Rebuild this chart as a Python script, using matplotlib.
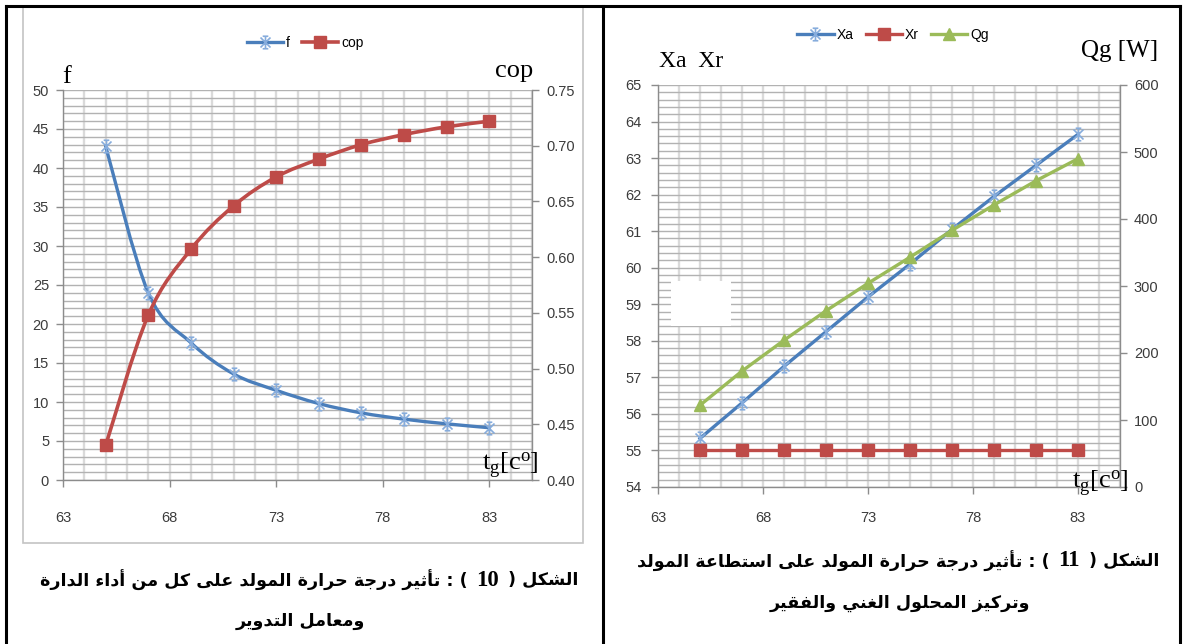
import matplotlib
matplotlib.use("Agg")
import matplotlib.pyplot as plt
from matplotlib.path import Path
from matplotlib.patches import PathPatch, Rectangle
from matplotlib.lines import Line2D
from matplotlib import font_manager
from matplotlib.font_manager import FontProperties
from matplotlib.ft2font import FT2Font

# ---------------------------------------------------------------- data
t_gen = [65, 67, 69, 71, 73, 75, 77, 79, 81, 83]

# figure 10: circulation ratio f and COP
f_vals = [42.8, 24.0, 17.6, 13.6, 11.5, 9.8, 8.6, 7.8, 7.2, 6.7]
cop_vals = [0.431, 0.548, 0.607, 0.646, 0.672, 0.688, 0.701, 0.710, 0.717, 0.722]

# figure 11: strong / weak solution concentration and generator load
xa_vals = [55.33, 56.30, 57.30, 58.25, 59.20, 60.10, 61.05, 61.95, 62.80, 63.65]
xr_vals = [55.0, 55.0, 55.0, 55.0, 55.0, 55.0, 55.0, 55.0, 55.0, 55.0]
qg_vals = [122, 173, 219, 263, 304, 343, 383, 421, 457, 490]

x_ticks = [63, 68, 73, 78, 83]
f_ticks = [0, 5, 10, 15, 20, 25, 30, 35, 40, 45, 50]
cop_ticks = [0.40, 0.45, 0.50, 0.55, 0.60, 0.65, 0.70, 0.75]
x_conc_ticks = [54, 55, 56, 57, 58, 59, 60, 61, 62, 63, 64, 65]
qg_ticks = [0, 100, 200, 300, 400, 500, 600]

caption_10 = ["الشكل (", "10", ") : تأثير درجة حرارة المولد على كل من أداء الدارة"]
caption_10b = "ومعامل التدوير"
caption_11 = ["الشكل (", "11", ") : تأثير درجة حرارة المولد على استطاعة المولد"]
caption_11b = "وتركيز المحلول الغني والفقير"

# ---------------------------------------------------------------- style
BLUE = "#4a7ebb"
BLUE_MK = "#86acdc"
RED = "#be4b48"
GREEN = "#9bbb59"
AXIS_GREY = "#8c8c8c"
TICK_COL = "#3c3c3c"

W, H = 1185, 644
names = {f.name for f in font_manager.fontManager.ttflist}
NARROW = "Liberation Sans Narrow" if "Liberation Sans Narrow" in names else "Liberation Sans"
SERIF = "Liberation Serif"

plt.rcParams["mathtext.fontset"] = "custom"
plt.rcParams["mathtext.rm"] = SERIF
plt.rcParams["mathtext.it"] = SERIF + ":italic"
plt.rcParams["mathtext.bf"] = SERIF + ":bold"


def has_glyph(props, code):
    try:
        font = FT2Font(font_manager.findfont(props))
        return font.get_char_index(code) != 0
    except Exception:
        return False


AR_BOLD = FontProperties(family="DejaVu Sans", weight="bold")
if not has_glyph(AR_BOLD, 0xFEB7):
    AR_BOLD = FontProperties(family="DejaVu Sans")

# ---------------------------------------------------------------- arabic shaping
_TWO = {"آ": 0xFE81, "أ": 0xFE83, "ؤ": 0xFE85, "إ": 0xFE87, "ا": 0xFE8D,
        "ة": 0xFE93, "د": 0xFEA9, "ذ": 0xFEAB, "ر": 0xFEAD, "ز": 0xFEAF,
        "و": 0xFEED, "ى": 0xFEEF}
_FOUR = {"ئ": 0xFE89, "ب": 0xFE8F, "ت": 0xFE95, "ث": 0xFE99, "ج": 0xFE9D,
         "ح": 0xFEA1, "خ": 0xFEA5, "س": 0xFEB1, "ش": 0xFEB5, "ص": 0xFEB9,
         "ض": 0xFEBD, "ط": 0xFEC1, "ظ": 0xFEC5, "ع": 0xFEC9, "غ": 0xFECD,
         "ف": 0xFED1, "ق": 0xFED5, "ك": 0xFED9, "ل": 0xFEDD, "م": 0xFEE1,
         "ن": 0xFEE5, "ه": 0xFEE9, "ي": 0xFEF1}
_LAMALEF = {"آ": 0xFEF5, "أ": 0xFEF7, "إ": 0xFEF9, "ا": 0xFEFB}
FORMS = {}
for ch, b in _TWO.items():
    FORMS[ch] = (b, b + 1)
for ch, b in _FOUR.items():
    FORMS[ch] = (b, b + 1, b + 2, b + 3)
FORMS["ء"] = (0xFE80,)


def shape(s):
    toks = []
    i = 0
    while i < len(s):
        c = s[i]
        if c == "ل" and i + 1 < len(s) and s[i + 1] in _LAMALEF:
            b = _LAMALEF[s[i + 1]]
            toks.append((c, (b, b + 1)))
            i += 2
            continue
        toks.append((c, FORMS.get(c)))
        i += 1
    out = []
    for j, (c, fm) in enumerate(toks):
        if fm is None or len(fm) == 1:
            out.append(chr(fm[0]) if fm else c)
            continue
        prv = j > 0 and toks[j - 1][1] is not None and len(toks[j - 1][1]) == 4
        nxt = (len(fm) == 4 and j + 1 < len(toks) and toks[j + 1][1] is not None
               and len(toks[j + 1][1]) >= 2)
        if prv and nxt:
            k = 3
        elif prv:
            k = 1
        elif nxt:
            k = 2
        else:
            k = 0
        out.append(chr(fm[k]))
    return "".join(out)


def visual(s):
    v = shape(s)[::-1]
    return v.translate(str.maketrans("()", ")("))


# ---------------------------------------------------------------- figure
fig = plt.figure(figsize=(W / 100, H / 100), dpi=100)


def fx(px):
    return px / W


def fy(py):
    return 1 - py / H


def smooth_path(xs, ys):
    """Cubic Bezier path through the points (Catmull-Rom tangents)."""
    pts = list(zip(xs, ys))
    verts = [pts[0]]
    codes = [Path.MOVETO]
    n = len(pts)
    for i in range(n - 1):
        p0 = pts[i - 1] if i > 0 else pts[i]
        p1 = pts[i]
        p2 = pts[i + 1]
        p3 = pts[i + 2] if i + 2 < n else pts[i + 1]
        c1 = (p1[0] + (p2[0] - p0[0]) / 6, p1[1] + (p2[1] - p0[1]) / 6)
        c2 = (p2[0] - (p3[0] - p1[0]) / 6, p2[1] - (p3[1] - p1[1]) / 6)
        verts += [c1, c2, p2]
        codes += [Path.CURVE4] * 3
    return Path(verts, codes)


STAR = Path([(0, -1), (0, 1), (-0.8, -0.8), (0.8, 0.8), (-0.8, 0.8), (0.8, -0.8),
             (-0.45, 1), (0.45, 1), (-0.45, -1), (0.45, -1)],
            [Path.MOVETO, Path.LINETO] * 5)


def style_axes(ax, axr, xpad):
    ax.set_xlim(63, 85)
    ax.set_xticks(x_ticks)
    ax.set_xticks(range(63, 86), minor=True)
    ax.grid(which="both", axis="x", color="#dadada", lw=1.7)
    ax.grid(which="both", axis="y", color="#b2b2b2", lw=1.0)
    ax.set_axisbelow(True)
    for a in (ax, axr):
        a.tick_params(which="minor", length=0)
        a.tick_params(which="major", length=5, width=1, color=AXIS_GREY,
                      labelcolor=TICK_COL, labelsize=10.5)
        for lab in a.get_xticklabels() + a.get_yticklabels():
            lab.set_family(NARROW)
    ax.tick_params(axis="x", pad=xpad)
    ax.tick_params(axis="y", pad=5)
    axr.tick_params(axis="y", pad=5)
    for side in ("top", "right"):
        ax.spines[side].set_visible(False)
    for side in ("top", "left", "bottom"):
        axr.spines[side].set_visible(False)
    for sp in (ax.spines["left"], ax.spines["bottom"], axr.spines["right"]):
        sp.set_color(AXIS_GREY)
        sp.set_linewidth(1.0)


# ---------------- figure 10
ax1 = fig.add_axes([fx(63), fy(480), fx(532) - fx(63), fy(90) - fy(480)])
ax1.set_ylim(0, 50)
ax1.set_yticks(f_ticks)
ax1.set_yticks(range(0, 51), minor=True)
ax1b = ax1.twinx()
ax1b.set_ylim(0.40, 0.75)
ax1b.set_yticks(cop_ticks)
ax1b.set_yticklabels([f"{v:.2f}" for v in cop_ticks])
style_axes(ax1, ax1b, 17)

ax1.add_patch(PathPatch(smooth_path(t_gen, f_vals), transform=ax1.transData,
                        fill=False, ec=BLUE, lw=2.4, capstyle="round", zorder=3))
ax1.plot(t_gen, f_vals, ls="none", marker=STAR, ms=9, mec=BLUE_MK, mfc="none",
         mew=1.2, zorder=4, clip_on=False)
ax1b.add_patch(PathPatch(smooth_path(t_gen, cop_vals), transform=ax1b.transData,
                         fill=False, ec=RED, lw=2.6, capstyle="round", zorder=3))
ax1b.plot(t_gen, cop_vals, ls="none", marker="s", ms=8, color=RED, zorder=4,
          clip_on=False)

h_f = Line2D([], [], color=BLUE, lw=2.4, marker=STAR, ms=9, mec=BLUE_MK,
             mfc="none", mew=1.2)
h_cop = Line2D([], [], color=RED, lw=2.6, marker="s", ms=8)
fig.legend([h_f, h_cop], ["f", "cop"], loc="center",
           bbox_to_anchor=(fx(305), fy(43)), ncol=2, frameon=False,
           handlelength=2.6, handletextpad=0.2, columnspacing=0.9,
           prop=FontProperties(family=NARROW, size=10))

# ---------------- figure 11
ax2 = fig.add_axes([fx(658), fy(487), fx(1120) - fx(658), fy(85) - fy(487)])
ax2.set_ylim(54, 65)
ax2.set_yticks(x_conc_ticks)
ax2.set_yticks([54 + 0.2 * k for k in range(56)], minor=True)
ax2b = ax2.twinx()
ax2b.set_ylim(0, 600)
ax2b.set_yticks(qg_ticks)
style_axes(ax2, ax2b, 12)
ax2.tick_params(axis="y", pad=7)

ax2.plot(t_gen, xa_vals, color=BLUE, lw=2.4, marker=STAR, ms=9, mec=BLUE_MK,
         mfc="none", mew=1.2, zorder=3, clip_on=False, label="Xa")
ax2.plot(t_gen, xr_vals, color=RED, lw=2.4, marker="s", ms=8.5, zorder=3,
         clip_on=False, label="Xr")
ax2b.plot(t_gen, qg_vals, color=GREEN, lw=2.4, marker="^", ms=8, zorder=3,
          clip_on=False, label="Qg")
h2 = ax2.get_lines() + ax2b.get_lines()
fig.legend(h2, [h.get_label() for h in h2], loc="center",
           bbox_to_anchor=(fx(893), fy(35)), ncol=3, frameon=False,
           handlelength=2.6, handletextpad=0.2, columnspacing=0.9,
           prop=FontProperties(family=NARROW, size=10))

fig.add_artist(Rectangle((fx(671), fy(326)), fx(731) - fx(671), fy(281) - fy(326),
                         transform=fig.transFigure, fc="white", ec="none", zorder=10))

# ---------------- axis titles
fig.text(fx(62), fy(83), "f", family=SERIF, size=19, va="baseline")
fig.text(fx(514), fy(77), "cop", family=SERIF, size=19, va="baseline", ha="center")
fig.text(fx(659), fy(67), "Xa  Xr", family=SERIF, size=17, va="baseline")
fig.text(fx(1081), fy(57), "Qg [W]", family=SERIF, size=18, va="baseline")
fig.text(fx(482), fy(470), r"$\mathrm{t_g[c^o]}$", size=19, va="baseline")
fig.text(fx(1072), fy(488), r"$\mathrm{t_g[c^o]}$", size=19, va="baseline")

# ---------------- frames
fig.add_artist(Rectangle((fx(23), fy(543)), fx(583) - fx(23), fy(7) - fy(543),
                         transform=fig.transFigure, fill=False, ec="#c4c4c4", lw=1.2))
black = dict(transform=fig.transFigure, color="black", lw=2.2, solid_capstyle="projecting")
fig.add_artist(Line2D([fx(5.5), fx(1180)], [fy(5.5), fy(5.5)], **black))
for xb in (5.5, 603, 1180):
    fig.add_artist(Line2D([fx(xb), fx(xb)], [fy(5.5), fy(H + 2)], **black))

# ---------------- captions (right-to-left)
renderer = fig.canvas.get_renderer()


def rtl_line(runs, xc, yc, size):
    """runs: logical-order list of (text, kind); kind 'ar' or 'num'."""
    texts = []
    for s, kind in runs:
        if kind == "ar":
            t = fig.text(0, 0, visual(s), fontproperties=AR_BOLD, size=size,
                         va="center", ha="left")
        else:
            t = fig.text(0, 0, s, family=SERIF, weight="bold", size=size * 1.3,
                         va="center", ha="left")
        texts.append(t)
    gap = size * 0.7
    widths = [t.get_window_extent(renderer).width for t in texts]
    total = sum(widths) + gap * (len(texts) - 1)
    x = xc + total / 2
    for t, w in zip(texts, widths):
        x -= w
        t.set_position((fx(x), fy(yc)))
        x -= gap
    return total


CAP = 12.6
rtl_line([(caption_10[0], "ar"), (caption_10[1], "num"), (caption_10[2], "ar")],
         309, 580, CAP)
rtl_line([(caption_10b, "ar")], 300, 621, CAP)
rtl_line([(caption_11[0], "ar"), (caption_11[1], "num"), (caption_11[2], "ar")],
         898, 561, CAP)
rtl_line([(caption_11b, "ar")], 900, 603, CAP)

fig.savefig("out.png", dpi=100)
